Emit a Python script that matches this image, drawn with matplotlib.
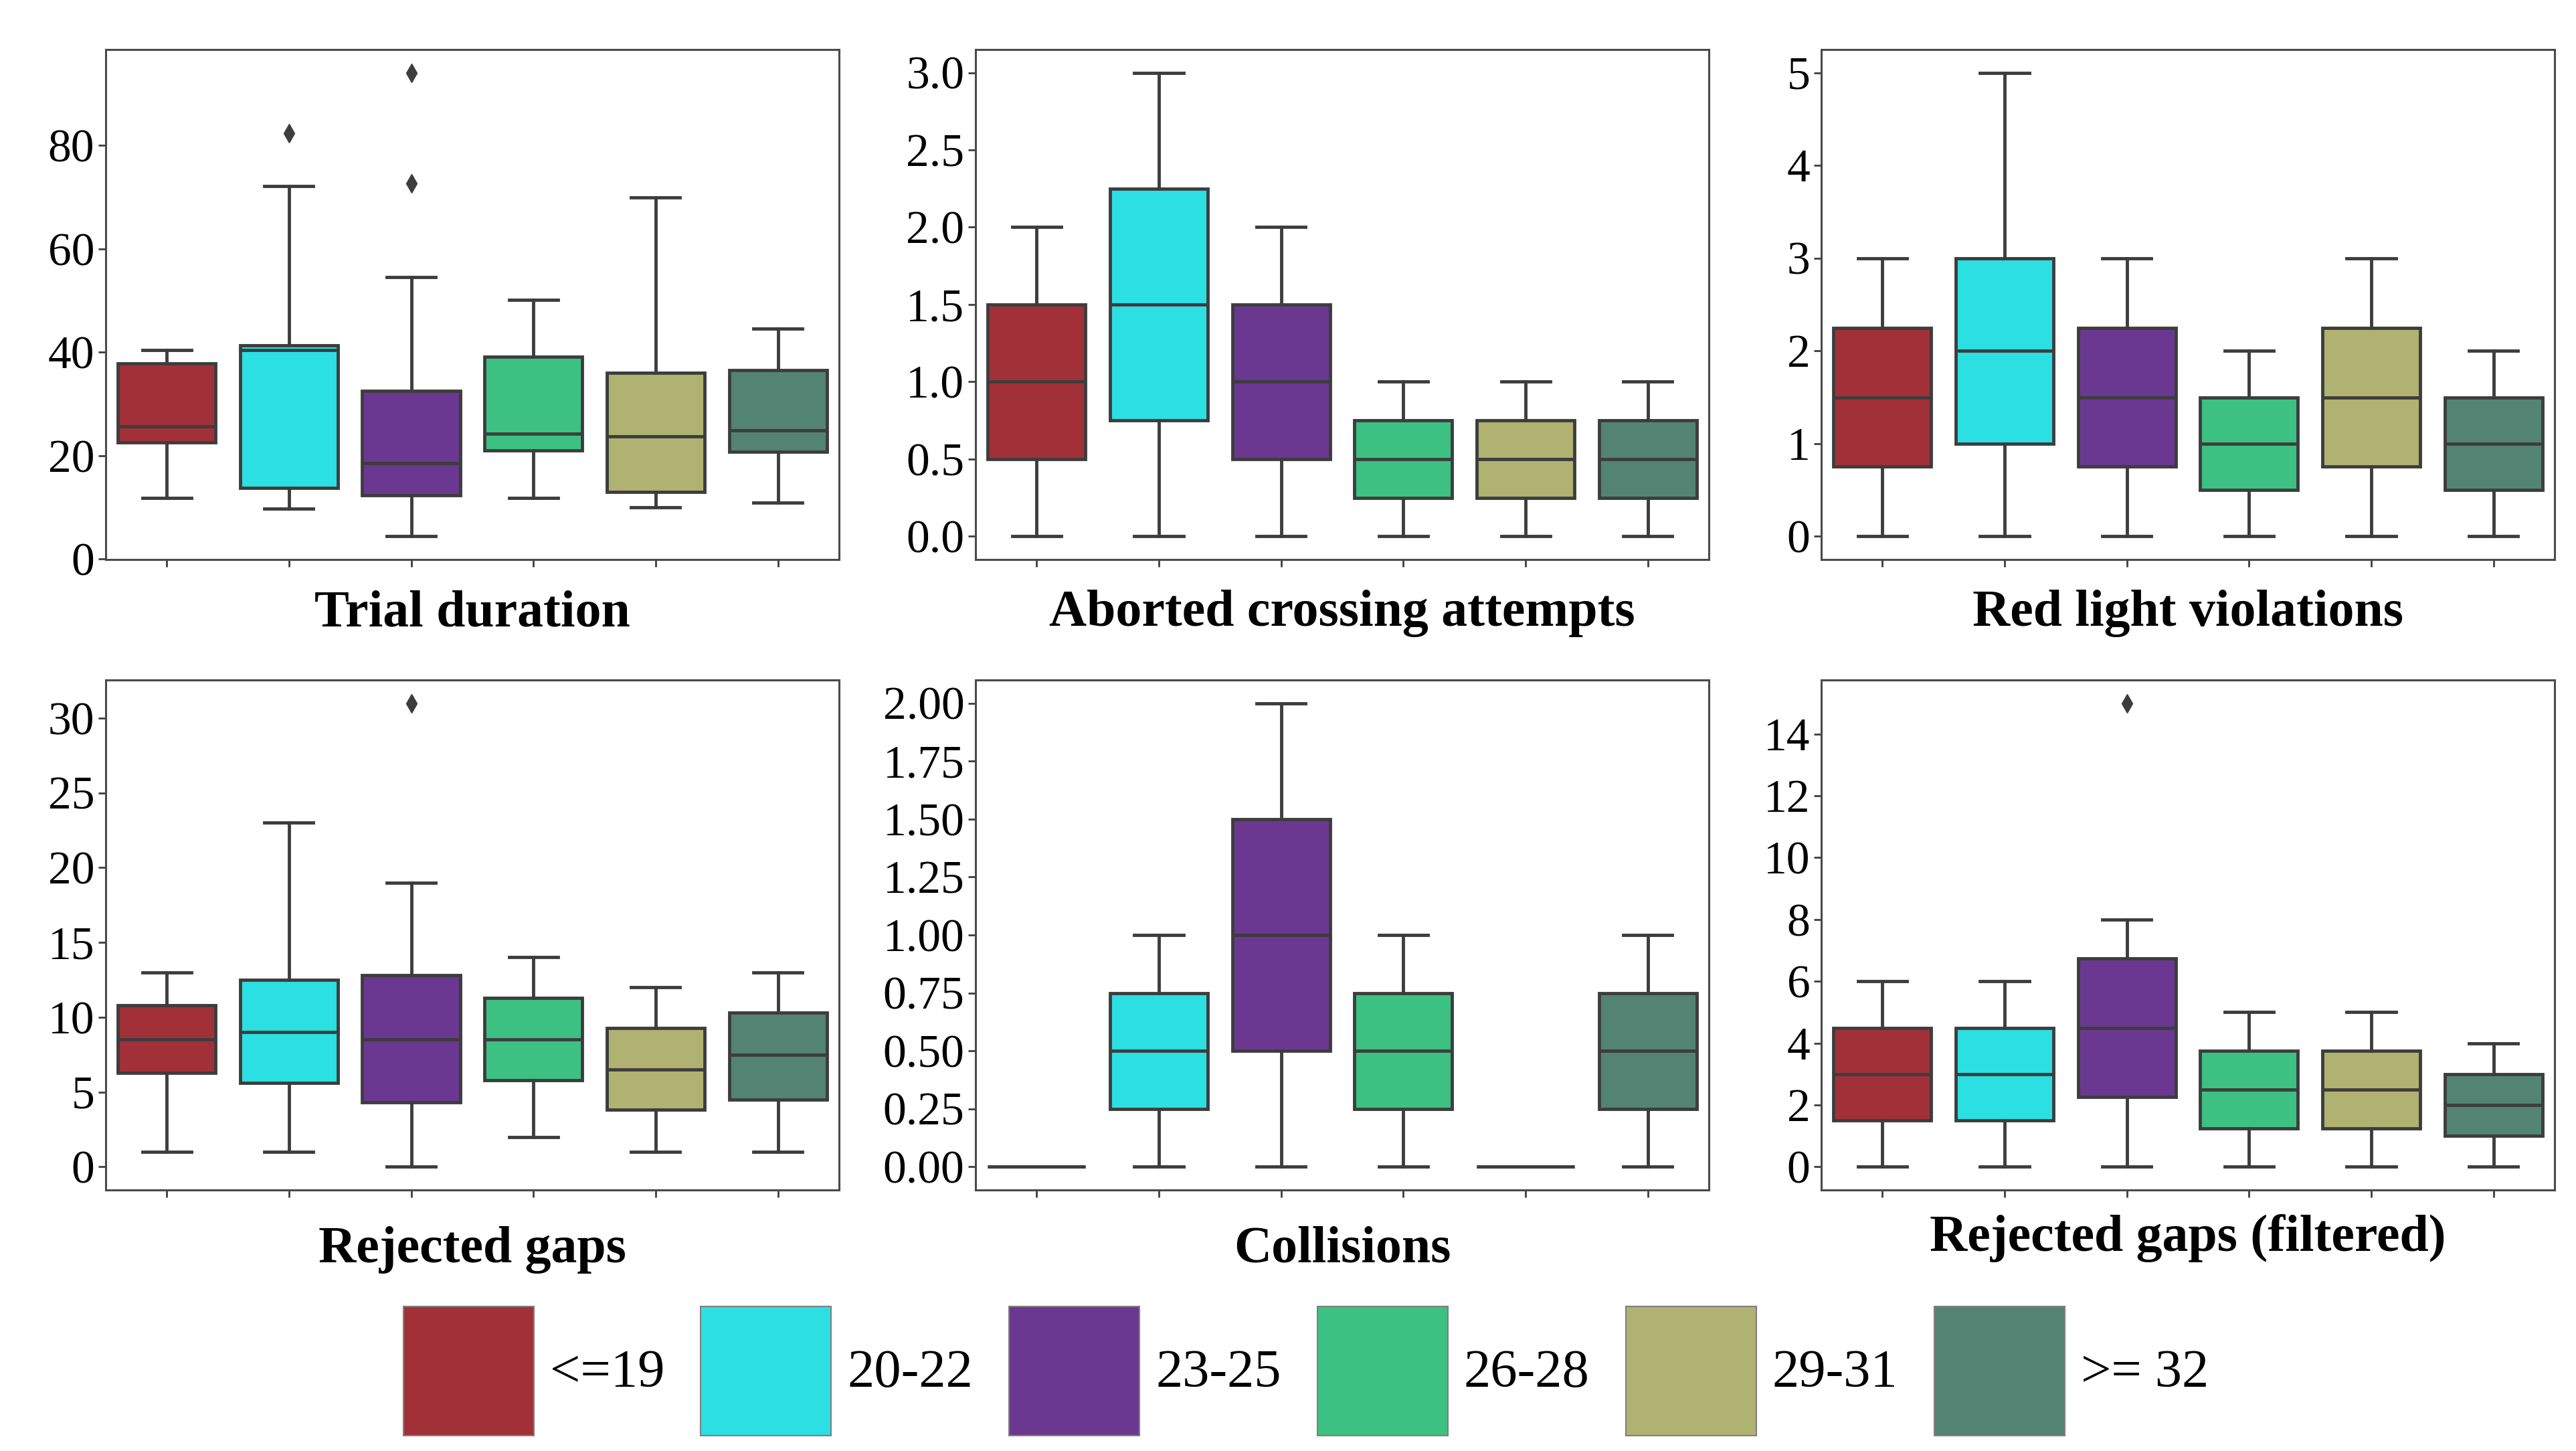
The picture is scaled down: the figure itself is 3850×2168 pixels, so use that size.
import matplotlib
matplotlib.use("Agg")
import matplotlib.pyplot as plt
from matplotlib.patches import Patch
from matplotlib.ticker import MultipleLocator, FormatStrFormatter

plt.rcParams['font.family'] = ['Liberation Serif', 'DejaVu Serif']

# age groups and their colours
groups = ['<=19', '20-22', '23-25', '26-28', '29-31', '>= 32']
colors = ['#A23038', '#2BDFE2', '#6A3791', '#3CC183', '#AFB271', '#538473']

# box statistics (per age group)
trial_lo = [11.8, 9.7, 4.4, 11.8, 10.0, 10.9]
trial_q1 = [22.6, 13.8, 12.3, 21.0, 13.0, 20.8]
trial_med = [25.7, 40.4, 18.6, 24.2, 23.7, 24.9]
trial_q3 = [37.9, 41.3, 32.6, 39.1, 36.0, 36.6]
trial_hi = [40.5, 72.1, 54.5, 50.2, 70.0, 44.6]
trial_fl = [[], [82.4], [72.7, 94.1], [], [], []]

abort_lo = [0, 0, 0, 0, 0, 0]
abort_q1 = [0.5, 0.75, 0.5, 0.25, 0.25, 0.25]
abort_med = [1.0, 1.5, 1.0, 0.5, 0.5, 0.5]
abort_q3 = [1.5, 2.25, 1.5, 0.75, 0.75, 0.75]
abort_hi = [2, 3, 2, 1, 1, 1]
abort_fl = [[], [], [], [], [], []]

red_lo = [0, 0, 0, 0, 0, 0]
red_q1 = [0.75, 1.0, 0.75, 0.5, 0.75, 0.5]
red_med = [1.5, 2.0, 1.5, 1.0, 1.5, 1.0]
red_q3 = [2.25, 3.0, 2.25, 1.5, 2.25, 1.5]
red_hi = [3, 5, 3, 2, 3, 2]
red_fl = [[], [], [], [], [], []]

rej_lo = [1, 1, 0, 2, 1, 1]
rej_q1 = [6.3, 5.6, 4.3, 5.8, 3.8, 4.5]
rej_med = [8.5, 9.0, 8.5, 8.5, 6.5, 7.5]
rej_q3 = [10.8, 12.5, 12.8, 11.3, 9.3, 10.3]
rej_hi = [13, 23, 19, 14, 12, 13]
rej_fl = [[], [], [31], [], [], []]

col_lo = [0, 0, 0, 0, 0, 0]
col_q1 = [0, 0.25, 0.5, 0.25, 0, 0.25]
col_med = [0, 0.5, 1.0, 0.5, 0, 0.5]
col_q3 = [0, 0.75, 1.5, 0.75, 0, 0.75]
col_hi = [0, 1, 2, 1, 0, 1]
col_fl = [[], [], [], [], [], []]

filt_lo = [0, 0, 0, 0, 0, 0]
filt_q1 = [1.5, 1.5, 2.25, 1.25, 1.25, 1.0]
filt_med = [3.0, 3.0, 4.5, 2.5, 2.5, 2.0]
filt_q3 = [4.5, 4.5, 6.75, 3.75, 3.75, 3.0]
filt_hi = [6, 6, 8, 5, 5, 4]
filt_fl = [[], [], [15], [], [], []]

titles = ['Trial duration', 'Aborted crossing attempts', 'Red light violations',
          'Rejected gaps', 'Collisions', 'Rejected gaps (filtered)']

panels = [
    (trial_lo, trial_q1, trial_med, trial_q3, trial_hi, trial_fl, 20, '%d'),
    (abort_lo, abort_q1, abort_med, abort_q3, abort_hi, abort_fl, 0.5, '%.1f'),
    (red_lo, red_q1, red_med, red_q3, red_hi, red_fl, 1, '%d'),
    (rej_lo, rej_q1, rej_med, rej_q3, rej_hi, rej_fl, 5, '%d'),
    (col_lo, col_q1, col_med, col_q3, col_hi, col_fl, 0.25, '%.2f'),
    (filt_lo, filt_q1, filt_med, filt_q3, filt_hi, filt_fl, 2, '%d'),
]

LINE = '#3d3d3d'
LW = 3.5

fig = plt.figure(figsize=(38.5, 21.68), dpi=100)

lefts = [0.041, 0.3787, 0.707]
bottoms = [0.6144, 0.1799]
W, H = 0.2847, 0.3515
label_off = [0.106, 0.106, 0.106, 0.117, 0.117, 0.095]

for i, (lo, q1, med, q3, hi, fl, step, fmt) in enumerate(panels):
    ax = fig.add_axes([lefts[i % 3], bottoms[i // 3], W, H])
    stats = []
    for k in range(len(groups)):
        stats.append({'whislo': lo[k], 'q1': q1[k], 'med': med[k],
                      'q3': q3[k], 'whishi': hi[k], 'fliers': fl[k]})
    bp = ax.bxp(stats, positions=range(len(groups)), widths=0.8, capwidths=0.4,
                patch_artist=True,
                boxprops=dict(edgecolor=LINE, linewidth=LW),
                medianprops=dict(color=LINE, linewidth=LW),
                whiskerprops=dict(color=LINE, linewidth=LW),
                capprops=dict(color=LINE, linewidth=LW),
                flierprops=dict(marker='d', markerfacecolor=LINE,
                                markeredgecolor=LINE, markersize=14))
    for patch, c in zip(bp['boxes'], colors):
        patch.set_facecolor(c)
    ax.set_xlim(-0.5, 5.5)
    ax.margins(y=0.05)
    ax.set_xticks(range(len(groups)))
    ax.set_xticklabels([])
    ax.yaxis.set_major_locator(MultipleLocator(step))
    ax.yaxis.set_major_formatter(FormatStrFormatter(fmt))
    ax.tick_params(axis='both', length=8, width=2, color=LINE, labelsize=50, pad=4)
    for s in ax.spines.values():
        s.set_color('#4a4a4a')
        s.set_linewidth(2.2)
    ax.text(0.5, -label_off[i], titles[i], transform=ax.transAxes,
            ha='center', va='center', fontsize=56, fontweight='bold')

handles = [Patch(facecolor=c, edgecolor='#808080', linewidth=1.5) for c in colors]
fig.legend(handles, groups, loc='center', bbox_to_anchor=(0.507, 0.0550), ncol=6,
           frameon=False, fontsize=58, handlelength=2.42, handleheight=3.3,
           handletextpad=0.3, columnspacing=0.67, borderaxespad=0)

plt.savefig('out.png', dpi=100)
